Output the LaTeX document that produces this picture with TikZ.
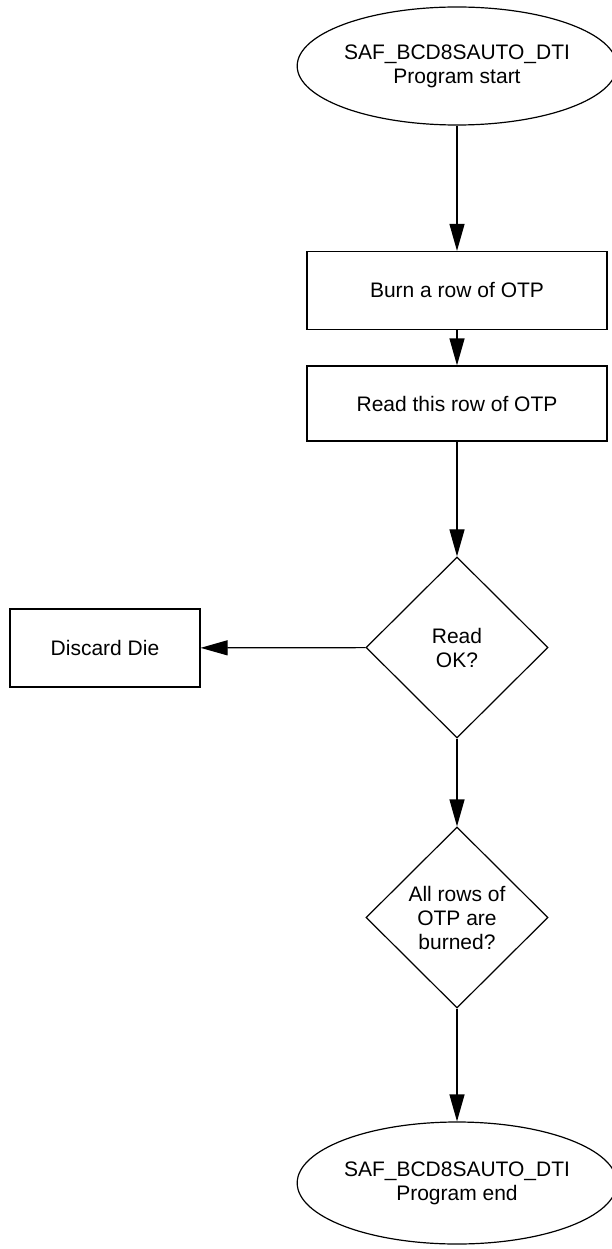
\documentclass[tikz,border=0pt]{standalone}
\usepackage{fontspec}
\setmainfont{Liberation Sans}
\usetikzlibrary{shapes.geometric,arrows.meta}

\tikzset{
  terminal/.style={draw,ellipse,line width=1.2pt,inner sep=0pt,align=center,
    minimum width=310pt,minimum height=118pt},
  process/.style={draw,rectangle,line width=1.2pt,inner sep=0pt,align=center,
    minimum width=300pt,minimum height=78pt},
  decision/.style={draw,diamond,line width=1.2pt,inner sep=0pt,align=center,
    minimum width=182pt,minimum height=181pt},
  flow/.style={line width=1.2pt,-{Triangle[length=27pt,width=15pt]}}
}

\begin{document}
\begin{tikzpicture}[x=1pt,y=-1pt,font=\fontsize{21}{24}\selectfont]

\useasboundingbox (0,0) rectangle (611,1249);

  \node[terminal] (start) at (457,66) {SAF\_BCD8SAUTO\_DTI\\Program start};
  \node[process] (burn) at (457,290.5) {Burn a row of OTP};
  \node[process,minimum height=75pt] (read) at (457,403.5) {Read this row of OTP};
  \node[decision] (readok) at (457,647.5) {Read\\OK?};
  \node[process,minimum width=190pt] (discard) at (105,648) {Discard Die};
  \node[decision] (allrows) at (457,917.5) {All rows of\\OTP are\\burned?};
  \node[terminal,minimum width=312pt,minimum height=122pt] (end) at (457,1183) {SAF\_BCD8SAUTO\_DTI\\Program end};

    \draw[flow] (start) -- (burn);
    \draw[flow] (burn) -- (read);
    \draw[flow] (read) -- (readok);
    \draw[flow] (readok) -- (discard);
    \draw[flow] (readok) -- (allrows);
    \draw[flow] (allrows) -- (end);

\end{tikzpicture}
\end{document}
